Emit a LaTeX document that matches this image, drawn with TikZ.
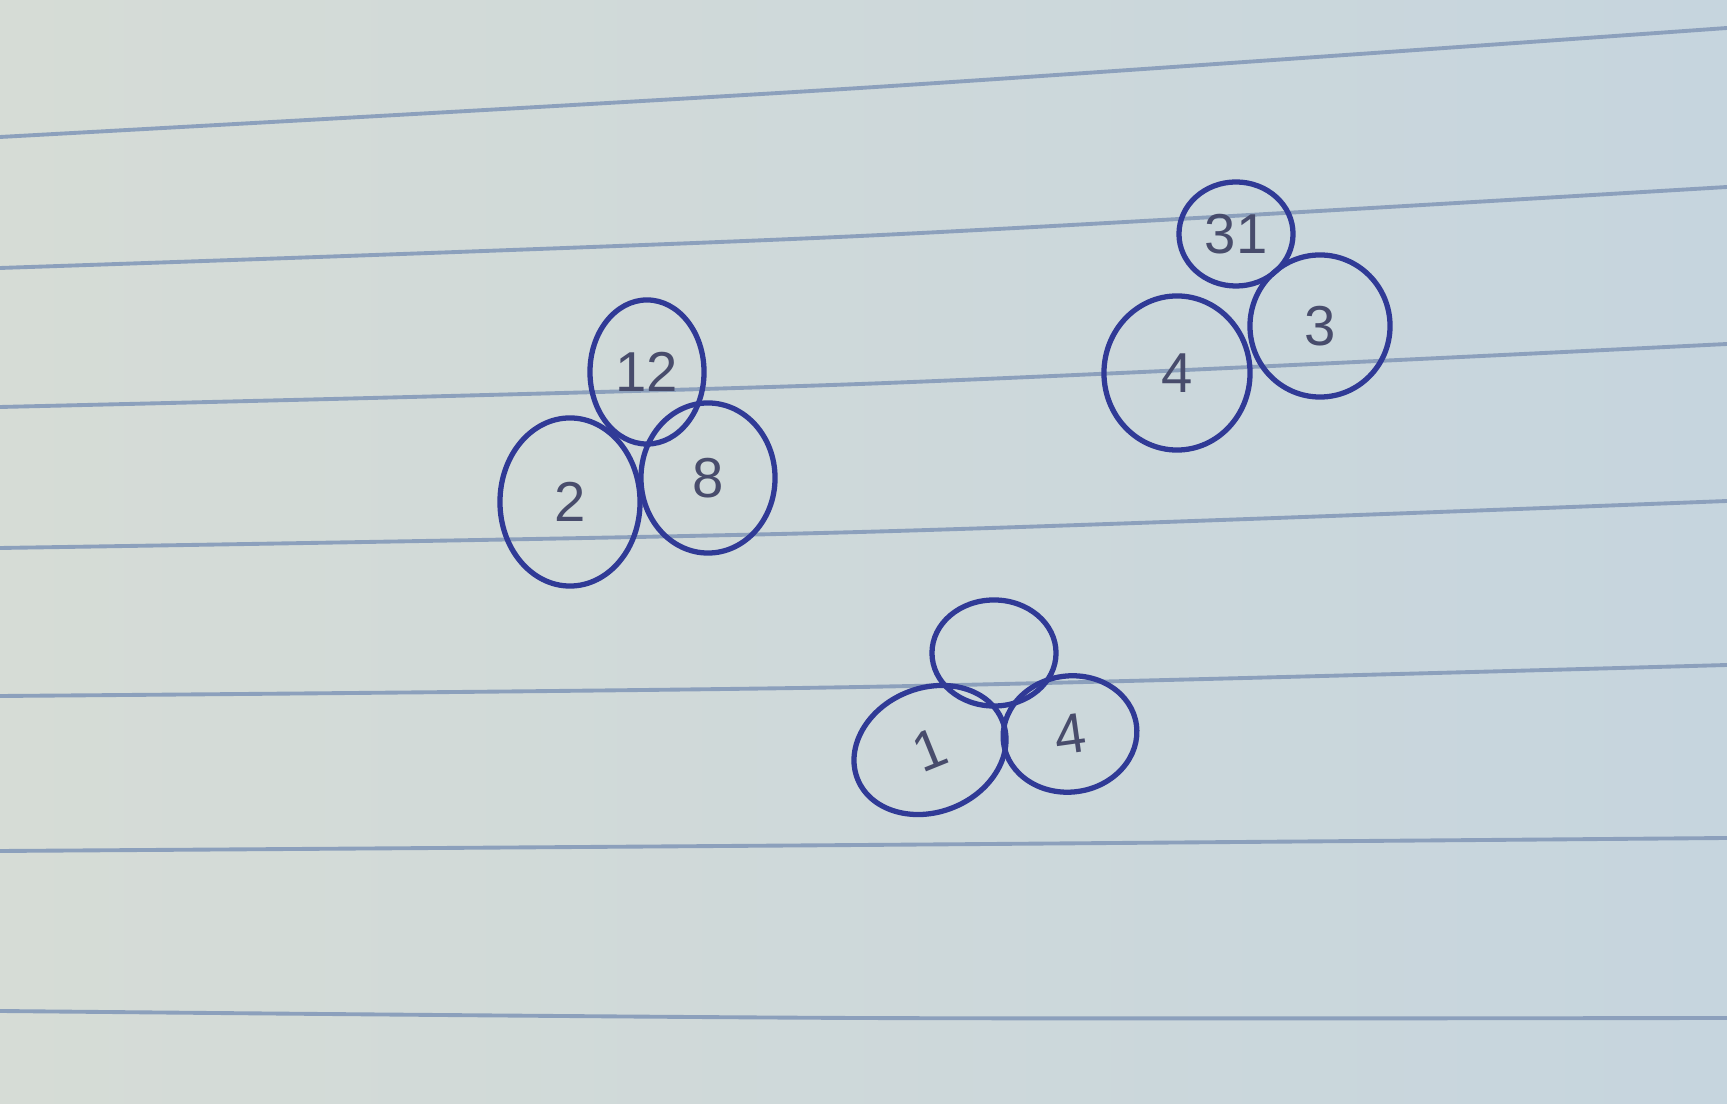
\documentclass[tikz,border=0pt]{standalone}
\usepackage{fontspec}
\setsansfont{Liberation Sans}
\usetikzlibrary{shapes.geometric}
\definecolor{ink}{RGB}{48, 58, 150}
\definecolor{pencil}{RGB}{72, 76, 108}
\definecolor{rule}{RGB}{140, 160, 188}
\definecolor{paperL}{RGB}{214, 220, 214}
\definecolor{paperR}{RGB}{198, 213, 222}

\begin{document}
\begin{tikzpicture}[
        x=0.01cm, y=-0.01cm,
        ball/.style={draw=ink, line width=1.5pt, ellipse, inner sep=0pt, text=pencil, font=\sffamily\fontsize{16}{16}\selectfont},
        ruled/.style={draw=rule, line width=1.1pt}
    ]
        \useasboundingbox (0,0) rectangle (1727,1104);
        \shade[left color=paperL, right color=paperR] (0,0) rectangle (1727,1104);
        % ruled lines of the paper
        \foreach \l/\m/\r in {137/88/28, 268/236/187, 407/384/344, 548/532/501, 696/687/665, 851/845/838, 1011/1018/1018}
            \draw[ruled] plot[smooth] coordinates {(0,\l) (860,\m) (1727,\r)};
        % first group
        \node[ball, minimum width=1.14cm, minimum height=1.44cm] (top12) at (647,372) {12};
        \node[ball, minimum width=1.40cm, minimum height=1.68cm] (left2) at (570,502) {2};
        \node[ball, minimum width=1.34cm, minimum height=1.50cm] (right8) at (708,478) {8};
        % second group
        \node[ball, minimum width=1.14cm, minimum height=1.04cm] (top31) at (1236,234) {31};
        \node[ball, minimum width=1.40cm, minimum height=1.42cm] (right3) at (1320,326) {3};
        \node[ball, minimum width=1.46cm, minimum height=1.54cm] (left4) at (1177,373) {4};
        % third group
        \node[ball, minimum width=1.24cm, minimum height=1.06cm] (topempty) at (994,653) {};
        \node[ball, minimum width=1.56cm, minimum height=1.24cm, rotate=22] (left1) at (930,750) {1};
        \node[ball, minimum width=1.34cm, minimum height=1.16cm, rotate=8] (right4) at (1070,734) {4};
    \end{tikzpicture}
\end{document}
